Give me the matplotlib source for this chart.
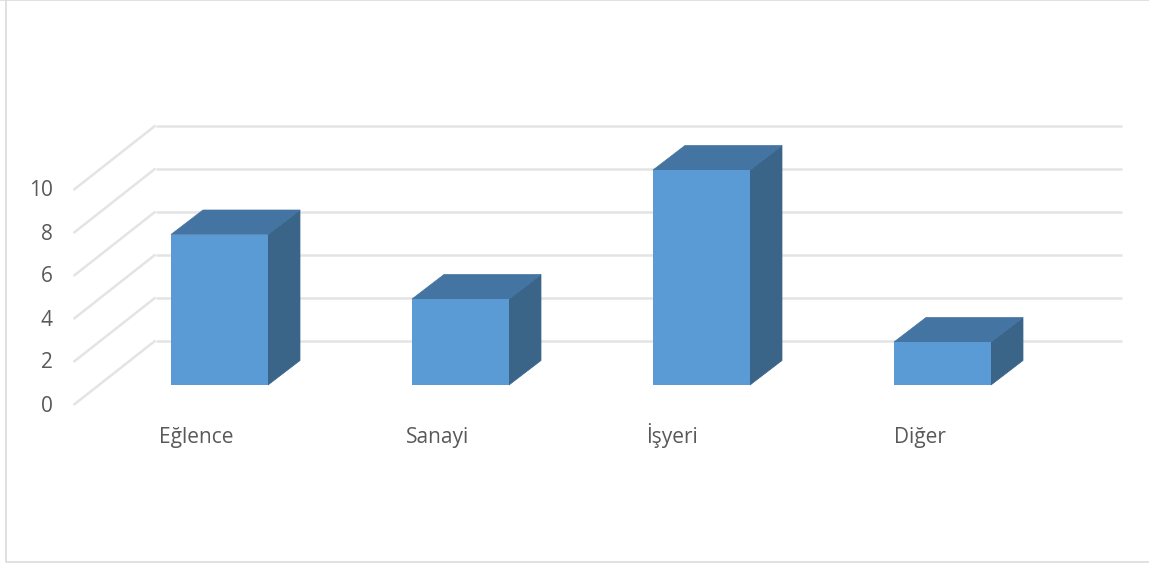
import matplotlib
matplotlib.use('Agg')
import matplotlib.pyplot as plt
from matplotlib.patches import Polygon

# Veriler
kategoriler = ['Eğlence', 'Sanayi', 'İşyeri', 'Diğer']
degerler = [7, 4, 10, 2]
eksen_degerleri = [0, 2, 4, 6, 8, 10]

plt.rcParams['font.family'] = ['Open Sans', 'DejaVu Sans']

fig = plt.figure(figsize=(11.49, 5.65), dpi=100)
ax = fig.add_axes([0, 0, 1, 1])
# x: 1 birim = 241 px, y: 1 birim = 21.5 px
ax.set_xlim(-219.5 / 241, (1149 - 219.5) / 241)
ax.set_ylim((385 - 565) / 21.5, 385 / 21.5)
ax.axis('off')

gen = 97 / 241 / 2
dx = 32 / 241
dy = 24.5 / 21.5
izgara = '#e4e4e4'
yazi = '#595959'
etiket_kayma = [0, 0, -7, 0]  # px

# duvar cizgileri
arka = 44.5 / 21.5
sol_on = -146 / 241
sol_arka = -64 / 241
sag = 902 / 241
for d in eksen_degerleri:
    ax.plot([sol_on, sol_arka], [d - 20 / 21.5, d + arka], color=izgara, lw=1.8, zorder=1,
            solid_capstyle='butt')
    ax.plot([sol_arka, sag], [d + arka, d + arka], color=izgara, lw=1.8, zorder=1,
            solid_capstyle='butt')
    ax.text(-167 / 241, d - 21 / 21.5, str(d), ha='right', va='center', fontsize=15, color=yazi)

# cubuklar
for i, v in enumerate(degerler):
    sol, sag_k = i - gen, i + gen
    ax.add_patch(Polygon([(sag_k, 0), (sag_k + dx, dy), (sag_k + dx, v + dy), (sag_k, v)],
                         facecolor='#3a6488', edgecolor='#3a6488', lw=0.5, zorder=2))
    ax.add_patch(Polygon([(sol, v), (sol + dx, v + dy), (sag_k + dx, v + dy), (sag_k, v)],
                         facecolor='#4474a2', edgecolor='#4474a2', lw=0.5, zorder=2))
    ax.bar(i, v, width=2 * gen, color='#5b9bd5', zorder=3)
    ax.text(i + (etiket_kayma[i] - 23) / 241, -58 / 21.5, kategoriler[i], ha='center', va='baseline',
            fontsize=15, color=yazi)

# cerceve
ax.plot([-214 / 241, -214 / 241, 930 / 241], [385 / 21.5, -177 / 21.5, -177 / 21.5],
        color='#dcdcdc', lw=1.2, zorder=1)
ax.plot([-219.5 / 241, 930 / 241], [384.5 / 21.5, 384.5 / 21.5], color='#dcdcdc', lw=1.2, zorder=1)

fig.savefig('out.png', dpi=100)
